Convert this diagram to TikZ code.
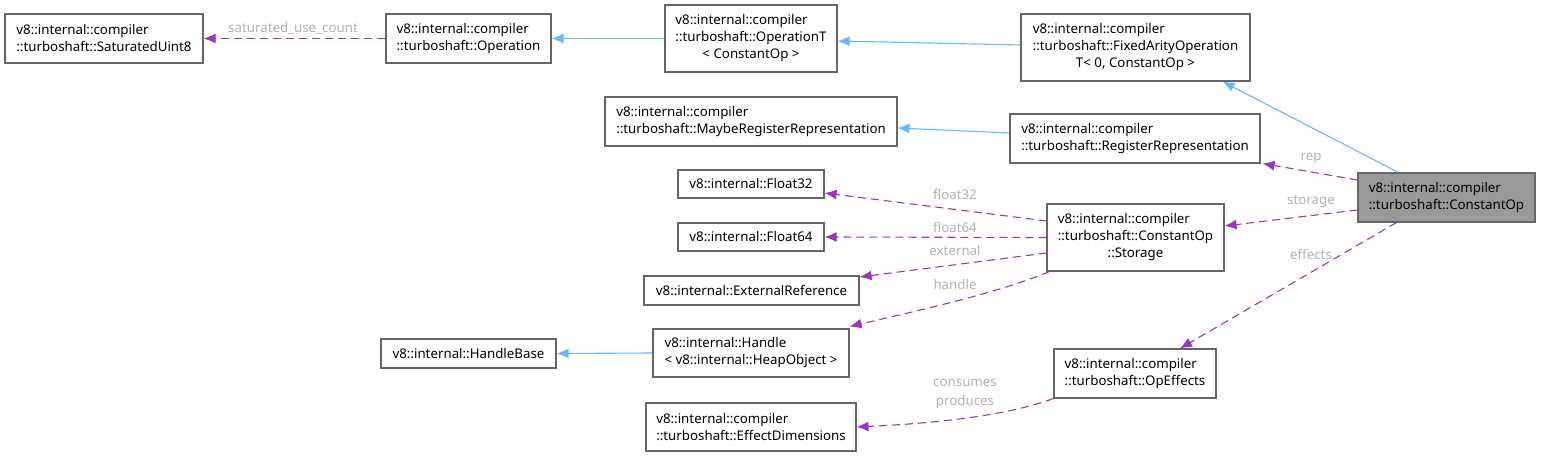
\documentclass[tikz,border=0pt]{standalone}
\usepackage{fontspec}
\setmainfont{Noto Sans}
\usetikzlibrary{arrows.meta}
\definecolor{inhblue}{HTML}{63B8FF}
\definecolor{assocpurple}{HTML}{9A32CD}
\definecolor{lblgray}{HTML}{B0B0B0}
\definecolor{boxgray}{HTML}{666666}
\newcommand{\midline}[1]{\multicolumn{1}{@{}c@{}}{#1}}
\begin{document}
\begin{tikzpicture}[
    x=1pt, y=-1pt,
    every node/.style={font=\fontsize{13.3}{17}\selectfont},
    cls/.style={rectangle, draw=boxgray, line width=1.1pt, align=left,
                inner xsep=9pt, inner ysep=0pt, minimum height=#1},
    cls/.default=49pt,
    inh/.style={draw=inhblue, line width=1.1pt,
                -{Latex[length=12pt, width=10pt]}},
    assoc/.style={draw=assocpurple, line width=1.1pt, dash pattern=on 8pt off 5pt,
                  -{Latex[length=12pt, width=10pt, fill=assocpurple]}},
    lbl/.style={text=lblgray}
]
  \useasboundingbox (0,0) rectangle (1541,457);

  % left column
  \node[cls, minimum width=198pt] (sat) at (104,38.5)
    {v8::internal::compiler\\::turboshaft::SaturatedUint8};
  \node[cls, minimum width=165pt] (op) at (468.5,38.5)
    {v8::internal::compiler\\::turboshaft::Operation};
  \node[cls=29pt, minimum width=175pt] (hbase) at (468.5,353.5)
    {v8::internal::HandleBase};

  % middle column
  \node[cls=67pt, minimum width=172pt] (opt) at (751,38.5)
    {\begin{tabular}{@{}l@{}}v8::internal::compiler\\::turboshaft::OperationT\\\midline{< ConstantOp >}\end{tabular}};
  \node[cls, minimum width=292pt] (mrr) at (751,121.5)
    {v8::internal::compiler\\::turboshaft::MaybeRegisterRepresentation};
  \node[cls=28pt, minimum width=146pt] (f32) at (751,184)
    {v8::internal::Float32};
  \node[cls=28pt, minimum width=146pt] (f64) at (751,237)
    {v8::internal::Float64};
  \node[cls=29pt, minimum width=215pt] (ext) at (751.5,290.5)
    {v8::internal::ExternalReference};
  \node[cls=48pt, minimum width=196pt] (hdl) at (751,353)
    {v8::internal::Handle\\< v8::internal::HeapObject >};
  \node[cls=48pt, minimum width=210pt] (effdim) at (751,427)
    {v8::internal::compiler\\::turboshaft::EffectDimensions};

  % right column
  \node[cls=67pt, minimum width=229pt] (fixed) at (1135.5,47.5)
    {\begin{tabular}{@{}l@{}}v8::internal::compiler\\::turboshaft::FixedArityOperation\\\midline{T< 0, ConstantOp >}\end{tabular}};
  \node[cls, minimum width=250pt] (rrep) at (1135,138.5)
    {v8::internal::compiler\\::turboshaft::RegisterRepresentation};
  \node[cls=67pt, minimum width=177pt] (stor) at (1135.5,237.5)
    {\begin{tabular}{@{}l@{}}v8::internal::compiler\\::turboshaft::ConstantOp\\\midline{::Storage}\end{tabular}};
  \node[cls, minimum width=162pt] (opeff) at (1135,373.5)
    {v8::internal::compiler\\::turboshaft::OpEffects};
  \node[cls, minimum width=177pt, fill=black!40] (cop) at (1446.5,197.5)
    {v8::internal::compiler\\::turboshaft::ConstantOp};

  % inheritance
  \draw[inh] (opt.west) -- (op.east);
  \draw[inh] ([yshift=2.5pt]fixed.west) -- ([yshift=-2.5pt]opt.east);
  \draw[inh] ([xshift=-48pt]cop.north) -- ([xshift=87pt]fixed.south);
  \draw[inh] ([yshift=5.5pt]rrep.west) -- ([yshift=-6.5pt]mrr.east);
  \draw[inh] (hdl.west) -- (hbase.east);

  % members
  \draw[assoc] (op.west) -- (sat.east);
  \draw[assoc] ([yshift=17.5pt]cop.west) -- ([xshift=2pt]rrep.south east);
  \draw[assoc] ([yshift=-12.5pt]cop.west) -- ([yshift=11.5pt]stor.east);
  \draw[assoc] ([xshift=-50pt]cop.south) -- ([xshift=45pt]opeff.north);
  \draw[assoc] ([yshift=16.5pt]stor.west) -- ([yshift=-9pt]f32.east);
  \draw[assoc] (stor.west) -- (f64.east);
  \draw[assoc] ([yshift=-15.5pt]stor.west) -- ([yshift=13.5pt]ext.east);
  \draw[assoc] ([xshift=3pt]stor.south west) .. controls (1000,292) and (930,308) .. ([yshift=2pt]hdl.north east);
  \draw[assoc] (opeff.south west) .. controls (1000,418) and (920,424) .. (effdim.east);

  % member names
  \node[lbl] at (293,28) {saturated\_use\_count};
  \node[lbl] at (1311,158) {rep};
  \node[lbl] at (1311,202) {storage};
  \node[lbl] at (1311,254) {effects};
  \node[lbl] at (955,194) {float32};
  \node[lbl] at (955,227) {float64};
  \node[lbl] at (955,251) {external};
  \node[lbl] at (955,285) {handle};
  \node[lbl, align=center, font=\fontsize{13.3}{19}\selectfont] at (965,394) {consumes\\produces};
\end{tikzpicture}
\end{document}
